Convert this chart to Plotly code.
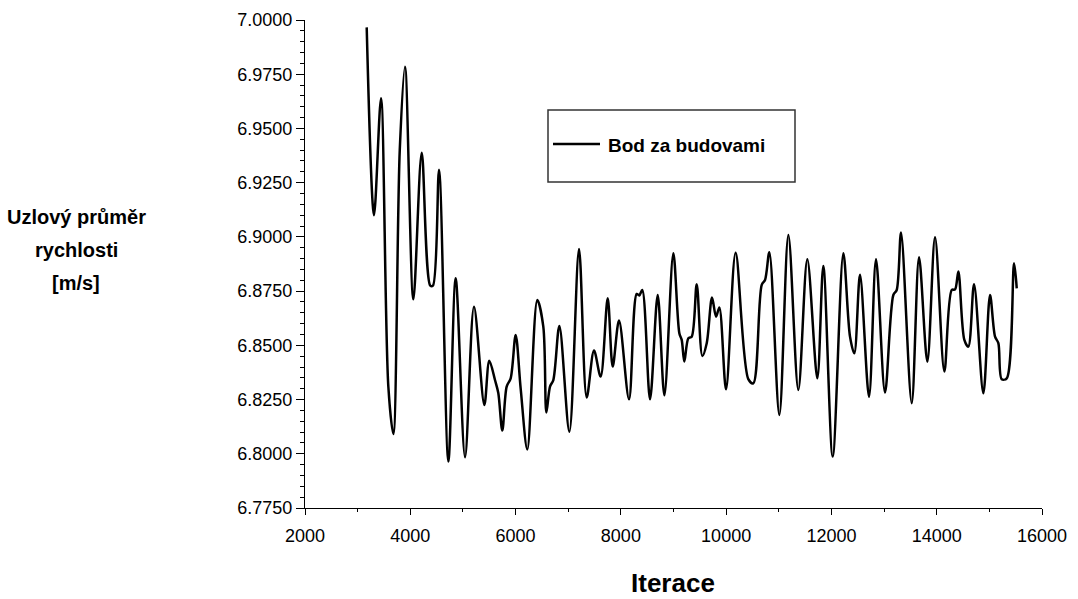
import plotly.graph_objects as go

iterations = [3172, 3311, 3444, 3583, 3678, 3800, 3900, 4058, 4217, 4380, 4430, 4546, 4723, 4862,
              5040, 5210, 5407, 5501, 5609, 5672, 5748, 5831, 5907, 6002, 6097, 6223, 6413,
              6527, 6585, 6654, 6717, 6832, 7022, 7205, 7351, 7490, 7616, 7750, 7845, 7965,
              8155, 8301, 8350, 8407, 8554, 8700, 8827, 8997, 9111, 9156, 9206, 9282, 9346,
              9441, 9548, 9631, 9732, 9808, 9871, 9998, 10180, 10421, 10516, 10676, 10739,
              10821, 11011, 11182, 11371, 11542, 11732, 11846, 12024, 12226, 12353, 12435,
              12543, 12714, 12847, 13018, 13176, 13240, 13322, 13525, 13664, 13822, 13968,
              14145, 14285, 14348, 14411, 14525, 14601, 14709, 14886, 15013, 15108, 15171,
              15235, 15330, 15469, 15520]
velocity = [6.9966, 6.9100, 6.9639, 6.8310, 6.8091, 6.9400, 6.9785, 6.8712, 6.9388, 6.8775, 6.8775,
            6.9309, 6.7964, 6.8809, 6.7984, 6.8678, 6.8225, 6.8429, 6.8340, 6.8280, 6.8107,
            6.8310, 6.8348, 6.8548, 6.8300, 6.8020, 6.8709, 6.8586, 6.8190, 6.8310, 6.8340,
            6.8589, 6.8102, 6.8944, 6.8260, 6.8476, 6.8356, 6.8717, 6.8402, 6.8614, 6.8251,
            6.8737, 6.8730, 6.8755, 6.8251, 6.8732, 6.8270, 6.8924, 6.8556, 6.8525, 6.8425,
            6.8533, 6.8540, 6.8782, 6.8451, 6.8510, 6.8720, 6.8632, 6.8675, 6.8297, 6.8927,
            6.8344, 6.8325, 6.8779, 6.8801, 6.8929, 6.8179, 6.9009, 6.8294, 6.8897, 6.8348,
            6.8866, 6.7987, 6.8924, 6.8540, 6.8463, 6.8825, 6.8263, 6.8897, 6.8282, 6.8732,
            6.8755, 6.9020, 6.8233, 6.8906, 6.8425, 6.8998, 6.8379, 6.8755, 6.8758, 6.8840,
            6.8525, 6.8494, 6.8782, 6.8279, 6.8732, 6.8540, 6.8510, 6.8344, 6.8348, 6.8878,
            6.8763]

series_name = "Bod za budovami"
y_title_lines = ["Uzlový průměr", "rychlosti", "[m/s]"]
x_title = "Iterace"

FONT = "Liberation Sans, Arial, sans-serif"

fig = go.Figure()
fig.add_trace(go.Scatter(
    x=iterations, y=velocity, mode="lines", name=series_name,
    line=dict(color="black", width=2.5, shape="spline", smoothing=0.9),
    showlegend=False,
))

# plot area: x 305..1042 px, y 20..508 px
def px_x(p):
    return (p - 305) / 737.0

def px_y(p):
    return (508 - p) / 488.0

annotations = []
for i, line in enumerate(y_title_lines):
    annotations.append(dict(
        text=line, xref="paper", yref="paper",
        x=px_x(76), y=px_y(217 + 33 * i), xanchor="center", yanchor="middle",
        showarrow=False,
        font=dict(family=FONT, size=20, color="black", weight="bold"),
    ))
annotations.append(dict(
    text=x_title, xref="paper", yref="paper",
    x=px_x(673), y=px_y(583), xanchor="center", yanchor="middle",
    showarrow=False,
    font=dict(family=FONT, size=26, color="black", weight="bold"),
))
# legend text
annotations.append(dict(
    text=series_name, xref="paper", yref="paper",
    x=px_x(606), y=px_y(145), xanchor="left", yanchor="middle",
    showarrow=False,
    font=dict(family=FONT, size=19, color="black", weight="bold"),
))

shapes = [
    dict(type="rect", xref="paper", yref="paper",
         x0=px_x(548), x1=px_x(795), y0=px_y(182), y1=px_y(110),
         line=dict(color="#333333", width=1.5), fillcolor="rgba(0,0,0,0)"),
    dict(type="line", xref="paper", yref="paper",
         x0=px_x(553), x1=px_x(600), y0=px_y(144), y1=px_y(144),
         line=dict(color="black", width=2.5)),
]

fig.update_layout(
    width=1078, height=599,
    margin=dict(l=305, r=36, t=20, b=91),
    paper_bgcolor="white", plot_bgcolor="white",
    font=dict(family=FONT, color="black", size=18),
    showlegend=False,
    xaxis=dict(
        range=[2000, 16000], dtick=2000, tick0=2000, tickformat="d",
        showgrid=False, zeroline=False, automargin=False,
        showline=True, linecolor="black", linewidth=1.2,
        ticks="outside", ticklen=6, tickcolor="black", tickwidth=1.2,
        minor=dict(dtick=1000, ticks="outside", ticklen=3, tickcolor="black", showgrid=False),
        tickfont=dict(size=18), ticklabelstandoff=5,
    ),
    yaxis=dict(
        range=[6.775, 7.0], dtick=0.025, tick0=6.775,
        tickformat=".4f", automargin=False,
        showgrid=False, zeroline=False,
        showline=True, linecolor="black", linewidth=1.2,
        ticks="outside", ticklen=8, tickcolor="black", tickwidth=1.2,
        minor=dict(dtick=0.005, ticks="outside", ticklen=4, tickcolor="black", showgrid=False),
        tickfont=dict(size=18),
    ),
    shapes=shapes,
    annotations=annotations,
)

fig.write_html("out.html")
